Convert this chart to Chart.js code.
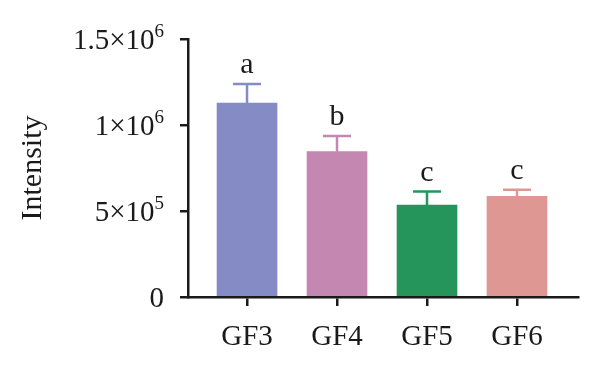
<!DOCTYPE html>
<html>
<head>
<meta charset="utf-8">
<script src="https://cdn.jsdelivr.net/npm/chart.js@4.4.1/dist/chart.umd.min.js"></script>
<style>
  html, body { margin: 0; padding: 0; background: #fff; }
  #chart { display: block; }
</style>
</head>
<body>
<canvas id="chart" width="600" height="368"></canvas>
<script>
// data
const groups = ["GF3", "GF4", "GF5", "GF6"];
const means = [1127000, 845000, 535000, 586000];
const errors = [111000, 91000, 78000, 37000];
const letters = ["a", "b", "c", "c"];
const barColors = ["#858bc4", "#c387b2", "#25955b", "#df9793"];
const yTicks = [0, 500000, 1000000, 1500000];
const yTickBase = ["0", "5×10", "1×10", "1.5×10"];
const yTickExp = ["", "5", "6", "6"];

const ink = "#1a1a1a";
const serif = '"Liberation Serif", "DejaVu Serif", serif';

// error bars + significance letters
const errorBars = {
    id: "errorBars",
    afterDatasetsDraw(chart) {
        const ctx = chart.ctx;
        const xs = chart.scales.x;
        const ys = chart.scales.y;
        ctx.save();
        groups.forEach((g, i) => {
            const cx = xs.getPixelForValue(i);
            const top = ys.getPixelForValue(means[i]);
            const end = ys.getPixelForValue(means[i] + errors[i]);
            ctx.strokeStyle = barColors[i];
            ctx.lineWidth = 2.5;
            ctx.beginPath();
            ctx.moveTo(cx, top);
            ctx.lineTo(cx, end);
            ctx.moveTo(cx - 14, end);
            ctx.lineTo(cx + 14, end);
            ctx.stroke();

            ctx.fillStyle = ink;
            ctx.font = "30px " + serif;
            ctx.textAlign = "center";
            ctx.textBaseline = "alphabetic";
            ctx.fillText(letters[i], cx, end - 11);
        });
        ctx.restore();
    }
};

// y tick labels with a real superscript exponent
const powerTicks = {
    id: "powerTicks",
    afterDraw(chart) {
        const ctx = chart.ctx;
        const ys = chart.scales.y;
        const right = 164;
        ctx.save();
        ctx.fillStyle = ink;
        ctx.textAlign = "right";
        ctx.textBaseline = "alphabetic";
        yTicks.forEach((v, i) => {
            const py = ys.getPixelForValue(v);
            ctx.font = "19px " + serif;
            const expW = yTickExp[i] ? ctx.measureText(yTickExp[i]).width : 0;
            if (yTickExp[i]) ctx.fillText(yTickExp[i], right, py - 2);
            ctx.font = "29px " + serif;
            ctx.fillText(yTickBase[i], right - expW, py + 10);
        });
        ctx.restore();
    }
};

new Chart(document.getElementById("chart"), {
    type: "bar",
    data: {
        datasets: [
            {
                data: groups.map((g, i) => ({ x: i, y: means[i] })),
                backgroundColor: barColors,
                borderWidth: 0,
                barThickness: 60,
            },
        ],
    },
    options: {
        responsive: false,
        animation: false,
        layout: { padding: { top: 39, right: 22, left: 0, bottom: 0 } },
        plugins: { legend: { display: false }, tooltip: { enabled: false } },
        scales: {
            x: {
                type: "linear",
                offset: false,
                min: -0.656,
                max: 3.678,
                afterBuildTicks: (s) => { s.ticks = groups.map((g, i) => ({ value: i })); },
                afterFit: (s) => { s.height = 71; },
                ticks: {
                    callback: (v) => groups[v],
                    color: ink,
                    font: { family: serif, size: 29 },
                    padding: 14,
                },
                grid: { offset: false, drawOnChartArea: false, drawTicks: true, tickLength: 9, color: ink, lineWidth: 2.5 },
                border: { color: ink, width: 2.5 },
            },
            y: {
                min: 0,
                max: 1500000,
                afterBuildTicks: (s) => { s.ticks = yTicks.map((v) => ({ value: v })); },
                afterFit: (s) => { s.width = 188; },
                ticks: { display: false },
                grid: { drawOnChartArea: false, drawTicks: true, tickLength: 8, color: ink, lineWidth: 2.5 },
                border: { color: ink, width: 2.5 },
                title: {
                    display: true,
                    text: "Intensity",
                    color: ink,
                    font: { family: serif, size: 30 },
                    padding: { top: 15, bottom: 0 },
                },
            },
        },
    },
    plugins: [errorBars, powerTicks],
});
</script>
</body>
</html>
